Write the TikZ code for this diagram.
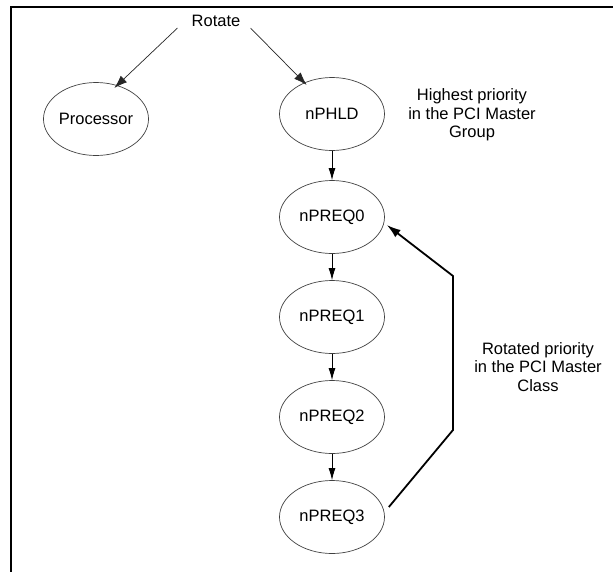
\documentclass[tikz,border=0pt]{standalone}
\usepackage{fontspec}
\setmainfont{Liberation Sans}
\usetikzlibrary{shapes.geometric,positioning,arrows.meta}

\begin{document}
\begin{tikzpicture}[x=1pt,y=-1pt,node distance=100pt,on grid,
    font=\fontsize{16.5}{18.3}\selectfont,
    bubble/.style={ellipse,draw=black!75,line width=0.7pt,
      minimum width=105pt,minimum height=73pt,inner sep=0pt},
    note/.style={align=center,inner sep=0pt},
    down/.style={-{Latex[length=12pt,width=7pt]},line width=0.8pt},
    rotarrow/.style={-{Latex[length=13pt,width=9pt]},line width=0.7pt,black!85},
    back/.style={-{Latex[length=14pt,width=9pt]},line width=1.8pt}]
   \useasboundingbox (0,0) rectangle (613,571);
   % frame (cut off at right and bottom)
   \draw[line width=2.5pt] (11,572) -- (11,7) -- (614,7);

   \node[note] (rt) at (216,21) {Rotate};
   \node[bubble] (proc) at (96,119) {Processor};
   \node[bubble] (phld) at (332,114) {nPHLD};
   \node[bubble] (q0) [below=103pt of phld] {nPREQ0};
   \node[bubble] (q1) [below=of q0] {nPREQ1};
   \node[bubble] (q2) [below=of q1] {nPREQ2};
   \node[bubble] (q3) [below=of q2] {nPREQ3};

   \node[note] (high) at (472,115) {Highest priority\\in the PCI Master\\Group};
   \node[note] (rotd) at (538,367) {Rotated priority\\in the PCI Master\\Class};

   \draw[rotarrow] ([xshift=-14pt,yshift=-7pt]rt.west) -- ([xshift=-19pt,yshift=5pt]proc.north east);
   \draw[rotarrow] ([xshift=10pt,yshift=-7pt]rt.east) -- ([xshift=12pt,yshift=3pt]phld.north west);

   \draw[down] (phld) -- (q0);
   \draw[down] (q0) -- (q1);
   \draw[down] (q1) -- (q2);
   \draw[down] (q2) -- (q3);

   % rotation path back to the top of the class
   \coordinate (lo) at (453,430);
   \coordinate (hi) at (453,276);
   \draw[back,line join=miter] ([xshift=4pt,yshift=10pt]q3.east) -- (lo) -- (hi)
      -- ([xshift=2pt,yshift=-8pt]q0.east);
\end{tikzpicture}
\end{document}
